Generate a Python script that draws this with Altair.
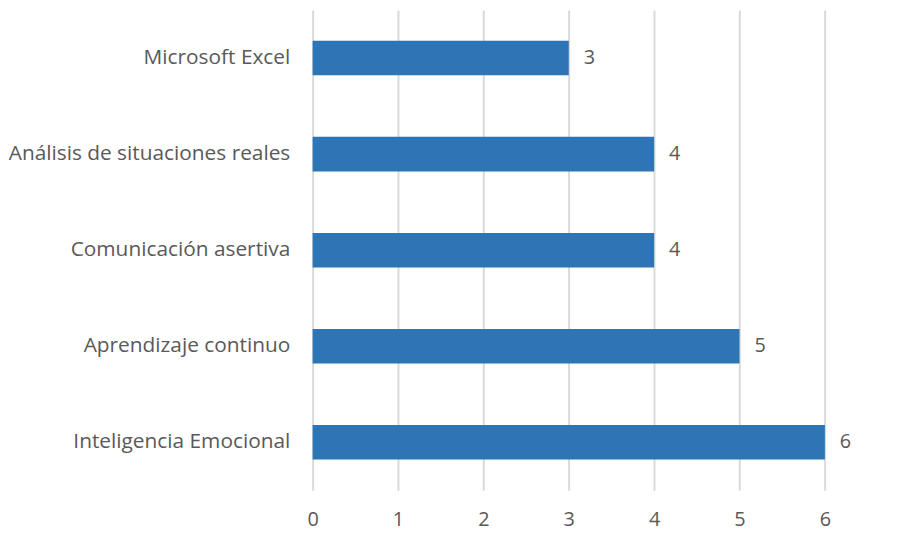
import altair as alt
import pandas as pd

categories = ["Microsoft Excel", "Análisis de situaciones reales", "Comunicación asertiva",
              "Aprendizaje continuo", "Inteligencia Emocional"]
values = [3, 4, 4, 5, 6]
x_ticks = [0, 1, 2, 3, 4, 5, 6]

df = pd.DataFrame({"cat": categories, "val": values})

FONT = "Open Sans"
GREY = "#595959"

x_scale = alt.Scale(domain=[0, 6.95], nice=False, zero=True)
y_scale = alt.Scale(paddingInner=0.64, paddingOuter=0.32)

base = alt.Chart(df).encode(
    y=alt.Y("cat:N", sort=categories, scale=y_scale,
            axis=alt.Axis(title=None, domain=False, ticks=False, labelPadding=23,
                          labelLimit=400, labelFontSize=21, labelColor=GREY, labelFont=FONT,
                          grid=False)),
)

bars = base.mark_bar(color="#2E75B6").encode(
    x=alt.X("val:Q", scale=x_scale,
            axis=alt.Axis(title=None, values=x_ticks, domain=False, ticks=False,
                          labelPadding=19, labelFontSize=20, labelColor=GREY, labelFont=FONT,
                          labelFlush=False,
                          grid=True, gridColor="#D9D9D9", gridWidth=2, format="d"))
)

labels = base.mark_text(align="left", baseline="middle", dx=15, fontSize=20,
                        color=GREY, font=FONT).encode(
    x=alt.X("val:Q", scale=x_scale),
    text=alt.Text("val:Q")
)

chart = (bars + labels).properties(
    width=598, height=484,
    autosize=alt.AutoSizeParams(type="none"),
    padding={"left": 307, "top": 0, "right": 0, "bottom": 45},
).configure_view(stroke=None)

chart.save("out.html", embed_options={"renderer": "svg", "actions": False})
